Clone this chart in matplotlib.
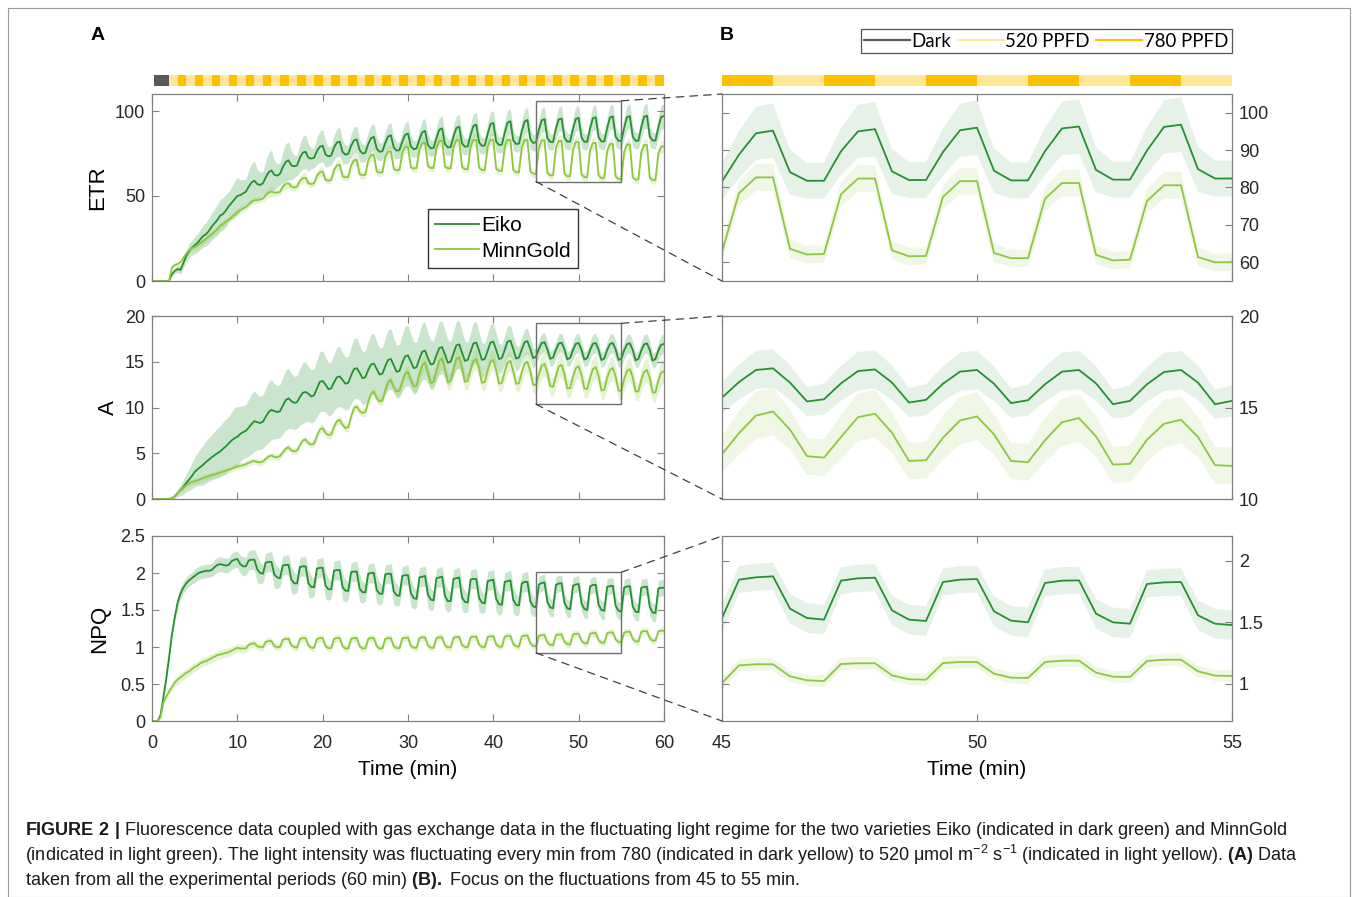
import numpy as np
import matplotlib.pyplot as plt
from matplotlib.patches import Rectangle, ConnectionPatch
from matplotlib.lines import Line2D

plt.rcParams['font.family'] = ['Liberation Sans', 'DejaVu Sans']
plt.rcParams['mathtext.fontset'] = 'custom'
plt.rcParams['mathtext.rm'] = 'Liberation Sans'
plt.rcParams['mathtext.bf'] = 'Liberation Sans:bold'

# one sample every 20 s, 0 -> 60 min
time_min = np.arange(181) / 3

# ---- ETR ----
etr_eiko = [0, 0, 0, 0, 0, 0, 0, 4.0, 6.0,
            7.0, 6.5, 10.5, 14.5, 17.5, 19.5,
            21, 22.5, 24.5, 26.5, 27.5, 29.5,
            32, 34, 36, 38.5, 39.5, 41.5,
            44, 46, 48, 50, 50.5, 51.5,
            52.5, 55.5, 58, 59, 57, 56.5,
            57.5, 61, 64, 65, 62.5, 62,
            63, 67, 70, 71, 68, 67.4,
            68, 72.5, 75.5, 76, 72.5, 72,
            72.5, 76.5, 79, 79.6, 74.5, 73.3,
            73.8, 78.5, 81.5, 82, 76, 74.3,
            74.8, 79.5, 82.7, 83.3, 77, 75,
            75.4, 80.5, 84, 84.8, 77.8, 76,
            76.3, 81.2, 85, 85.7, 78.5, 76.7,
            77, 82, 86, 86.8, 79.2, 77.5,
            78, 83, 87.5, 88.3, 80, 78,
            78.3, 84, 89, 89.8, 80.5, 78.6,
            78.8, 85, 90, 90.8, 81, 79,
            79.2, 85.8, 91.2, 92, 81.5, 79.5,
            79.7, 86.5, 92.3, 93, 82, 80,
            80.2, 87.2, 93.2, 94, 82.8, 80.6,
            80.8, 88, 93.8, 94.8, 83.5, 81.2,
            81.6, 88.8, 94.5, 95.2, 84.1, 81.8,
            81.8, 89.7, 95.0, 95.6, 84.3, 82.0,
            82.0, 89.5, 95.3, 96.0, 84.5, 81.9,
            81.9, 89.7, 95.8, 96.3, 84.7, 82.1,
            82.1, 89.9, 96.2, 96.8, 84.9, 82.4,
            82.4, 90.2, 96.4, 97.0, 85.0, 82.5,
            82.5, 90.3, 96.6, 97.2, 85.1, 82.6,
            82.6, 90.3, 96.5, 97.0]
etr_eiko_sd = [0, 0, 0, 0, 0, 0, 0, 1, 1.5,
               2, 2.5, 3, 3.5, 4, 4.5,
               5, 5.5, 6, 6.5, 7, 7.5,
               8, 8.5, 9, 9.5, 9.5, 9.5,
               8.5, 9.5, 10.5, 11, 9, 8,
               7.5, 9.5, 11, 11.5, 8.5, 7.5,
               7, 9.5, 11.5, 12, 8.5, 7,
               6.5, 9, 10.7, 11, 8.7, 6.5,
               6, 8.3, 9.7, 10, 8, 6,
               5.8, 8, 9.2, 9.5, 7.6, 5.8,
               5.5, 7.3, 8.2, 8.5, 7, 5.5,
               5.3, 7, 7.7, 8, 6.6, 5.3,
               5.2, 6.8, 7.6, 7.8, 6.5, 5.2,
               5, 6.5, 7.3, 7.5, 6.2, 5,
               4.8, 6.3, 7.1, 7.3, 6, 4.8,
               4.8, 6.3, 7.1, 7.3, 6, 4.8,
               4.8, 6.3, 7.1, 7.3, 6, 4.8,
               4.8, 6.3, 7.1, 7.3, 6, 4.8,
               4.8, 6.3, 7.1, 7.3, 6, 4.8,
               4.8, 6.3, 7.1, 7.3, 6, 4.8,
               4.8, 6.3, 7.1, 7.3, 6, 4.8,
               4.8, 6.3, 7.1, 7.3, 6, 4.8,
               4.8, 6.3, 7.1, 7.3, 6, 4.8,
               4.8, 6.3, 7.1, 7.3, 6, 4.8,
               4.8, 6.3, 7.1, 7.3, 6, 4.8,
               4.8, 6.3, 7.1, 7.3, 6, 4.8,
               4.8, 6.3, 7.1, 7.3, 6, 4.8,
               4.8, 6.3, 7.1, 7.3, 6, 4.8,
               4.8, 6.3, 7.1, 7.3, 6, 4.8,
               4.8, 6.3, 7.1, 7.3]
etr_mg = [0, 0, 0, 0, 0, 0, 0, 7.9, 9.5,
          10, 11.2, 13.5, 16, 18, 19.2,
          20, 21, 22.2, 23.5, 24.8, 26.2,
          27.5, 29, 30.5, 32.5, 33.5, 35,
          36, 37.5, 39, 40.5, 41.5, 42.5,
          43.5, 45, 46.5, 47.5, 47.5, 48,
          48.5, 50.5, 52, 52.6, 52, 52,
          52.5, 55.5, 57.2, 57.5, 55.5, 55,
          55.5, 59, 60.5, 60.7, 57.5, 57,
          57.5, 62, 64, 64.4, 59.5, 59,
          59.5, 65.5, 68, 68.4, 61.5, 61,
          61.2, 68, 71, 71.3, 62.8, 62.3,
          62.5, 71, 74, 74.3, 64.4, 63.8,
          64, 73, 76, 76.3, 65.8, 65.2,
          65.4, 75.5, 78.6, 78.9, 66.8, 66.2,
          66.5, 77.5, 81, 81.3, 67.5, 66.5,
          66.5, 78.5, 82.3, 82.5, 67.3, 66.3,
          66.3, 78.8, 82.8, 82.8, 67, 65.8,
          65.8, 79, 83, 83, 66.5, 65.3,
          65.3, 79, 83, 83, 66, 64.8,
          64.8, 78.8, 83, 83, 65.3, 64,
          64, 78.7, 82.9, 82.9, 64.5, 63.2,
          62.8, 78.5, 82.7, 82.7, 63.6, 62.1,
          62.2, 78.2, 82.4, 82.4, 63.2, 61.6,
          61.7, 77.5, 81.7, 81.7, 62.5, 61.1,
          61.1, 77.0, 81.2, 81.2, 62.0, 60.5,
          60.7, 76.4, 80.6, 80.6, 61.4, 60.0,
          60.0, 76.0, 80.3, 80.3, 61.0, 59.6,
          59.7, 75.8, 80.0, 80.0, 60.6, 59.3,
          59.4, 75.0, 79.0, 79.2]
etr_mg_sd = [0, 0, 0, 0, 0, 0, 0, 0.8, 1,
             1.2, 1.3, 1.4, 1.5, 1.6, 1.7,
             1.8, 1.8, 1.9, 1.9, 2, 2,
             2, 2, 2.1, 2.1, 2, 2,
             2, 2, 2.1, 2.1, 2, 2,
             2, 2, 2.1, 2.1, 2, 2,
             2, 2.5, 3, 3, 2.2, 2,
             2, 2.5, 3, 3, 2.2, 2,
             2, 2.5, 3, 3, 2.2, 2,
             2, 2.5, 3, 3, 2.2, 2,
             2, 2.5, 3, 3, 2.2, 2,
             2.3, 3.2, 3.6, 3.6, 2.5, 2.3,
             2.3, 3.2, 3.6, 3.6, 2.5, 2.3,
             2.3, 3.2, 3.6, 3.6, 2.5, 2.3,
             2.3, 3.2, 3.6, 3.6, 2.5, 2.3,
             2.3, 3.2, 3.6, 3.6, 2.5, 2.3,
             2.3, 3.2, 3.6, 3.6, 2.5, 2.3,
             2.3, 3.2, 3.6, 3.6, 2.5, 2.3,
             2.3, 3.2, 3.6, 3.6, 2.5, 2.3,
             2.3, 3.2, 3.6, 3.6, 2.5, 2.3,
             2.3, 3.2, 3.6, 3.6, 2.5, 2.3,
             2.3, 3.2, 3.6, 3.6, 2.5, 2.3,
             2.3, 3.2, 3.6, 3.6, 2.5, 2.3,
             2.3, 3.2, 3.6, 3.6, 2.5, 2.3,
             2.3, 3.2, 3.6, 3.6, 2.5, 2.3,
             2.3, 3.2, 3.6, 3.6, 2.5, 2.3,
             2.3, 3.2, 3.6, 3.6, 2.5, 2.3,
             2.3, 3.2, 3.6, 3.6, 2.5, 2.3,
             2.3, 3.2, 3.6, 3.6, 2.5, 2.3,
             2.3, 3.2, 3.6, 3.6]

# ---- A (assimilation) ----
a_eiko = [0, 0, 0, 0, 0, 0, 0, 0.1, 0.3,
          0.65, 0.95, 1.3, 1.75, 2.1, 2.5,
          2.95, 3.25, 3.5, 3.75, 4.05, 4.3,
          4.55, 4.8, 5.0, 5.2, 5.5, 5.75,
          6.1, 6.4, 6.65, 6.8, 7.1, 7.3,
          7.45, 7.8, 8.2, 8.5, 8.4, 8.3,
          8.45, 9.0, 9.5, 9.75, 9.6, 9.5,
          9.6, 10.2, 10.8, 11.0, 10.7, 10.5,
          10.6, 11.15, 11.6, 11.7, 11.5, 11.2,
          11.35, 12.1, 12.8, 12.9, 12.5, 12.0,
          12.1, 12.75, 13.3, 13.4, 13.0, 12.6,
          12.7, 13.5, 14.2, 14.3, 13.8, 13.2,
          13.3, 14.1, 14.7, 14.8, 14.2, 13.6,
          13.7, 14.5, 15.2, 15.3, 14.6, 13.9,
          14.0, 14.9, 15.6, 15.7, 15.0, 14.3,
          14.4, 15.3, 16.1, 16.2, 15.4, 14.7,
          14.8, 15.7, 16.5, 16.6, 15.8, 14.9,
          15.0, 15.9, 16.8, 16.9, 16.0, 15.1,
          15.2, 16.1, 17.0, 17.1, 16.2, 15.2,
          15.3, 16.2, 17.1, 17.2, 16.3, 15.3,
          15.4, 16.3, 17.2, 17.3, 16.4, 15.35,
          15.45, 16.35, 17.15, 17.25, 16.4, 15.4,
          15.54, 16.39, 17.05, 17.14, 16.36, 15.33,
          15.45, 16.32, 16.99, 17.08, 16.36, 15.27,
          15.42, 16.3, 16.96, 17.05, 16.3, 15.24,
          15.4, 16.27, 16.96, 17.05, 16.32, 15.18,
          15.36, 16.27, 16.94, 17.05, 16.36, 15.18,
          15.36, 16.25, 16.92, 17.02, 16.3, 15.15,
          15.32, 16.22, 16.9, 17.0, 16.28, 15.12,
          15.3, 16.2, 16.85, 16.95]
a_eiko_sd = [0, 0, 0, 0, 0, 0, 0, 0.05, 0.2,
             0.4, 0.6, 0.8, 1.0, 1.2, 1.4,
             1.6, 1.8, 2.0, 2.2, 2.3, 2.4,
             2.5, 2.6, 2.7, 2.8, 2.9, 3.0,
             2.9, 3.1, 3.3, 3.3, 3.0, 2.9,
             2.9, 3.1, 3.3, 3.3, 3.0, 2.9,
             2.9, 3.1, 3.3, 3.3, 3.0, 2.9,
             2.9, 3.1, 3.3, 3.3, 3.0, 2.9,
             2.9, 3.1, 3.3, 3.3, 3.0, 2.9,
             2.9, 3.1, 3.3, 3.3, 3.0, 2.9,
             2.9, 3.1, 3.3, 3.3, 3.0, 2.9,
             2.9, 3.1, 3.3, 3.3, 3.0, 2.9,
             2.9, 3.1, 3.3, 3.3, 3.0, 2.9,
             2.9, 3.1, 3.3, 3.3, 3.0, 2.9,
             2.9, 3.1, 3.3, 3.3, 3.0, 2.9,
             2.7, 2.9, 3.1, 3.1, 2.8, 2.7,
             2.5, 2.7, 2.9, 2.9, 2.6, 2.5,
             2.2, 2.4, 2.6, 2.6, 2.3, 2.2,
             1.9, 2.1, 2.3, 2.3, 2.0, 1.9,
             1.7, 1.9, 2.0, 2.0, 1.8, 1.7,
             1.5, 1.6, 1.7, 1.7, 1.5, 1.4,
             1.2, 1.3, 1.4, 1.4, 1.2, 1.1,
             0.85, 0.95, 1.05, 1.05, 0.95, 0.8,
             0.85, 0.95, 1.05, 1.05, 0.95, 0.8,
             0.85, 0.95, 1.05, 1.05, 0.95, 0.8,
             0.85, 0.95, 1.05, 1.05, 0.95, 0.8,
             0.85, 0.95, 1.05, 1.05, 0.95, 0.8,
             0.85, 0.95, 1.05, 1.05, 0.95, 0.8,
             0.85, 0.95, 1.05, 1.05, 0.95, 0.8,
             0.85, 0.95, 1.05, 1.05]
a_mg = [0, 0, 0, 0, 0, 0, 0, 0.1, 0.3,
        0.65, 0.95, 1.2, 1.5, 1.7, 1.85,
        1.95, 2.05, 2.15, 2.3, 2.4, 2.5,
        2.6, 2.7, 2.8, 2.9, 3.0, 3.1,
        3.2, 3.3, 3.45, 3.55, 3.6, 3.7,
        3.8, 3.95, 4.1, 4.15, 4.05, 4.0,
        4.1, 4.4, 4.65, 4.75, 4.6, 4.55,
        4.7, 5.1, 5.5, 5.65, 5.3, 5.2,
        5.3, 5.9, 6.4, 6.5, 6.1, 5.95,
        6.05, 6.9, 7.6, 7.75, 7.2, 7.0,
        7.05, 7.9, 8.5, 8.65, 8.1, 7.75,
        7.85, 9.0, 9.95, 10.1, 9.6, 9.4,
        9.5, 10.6, 11.5, 11.75, 11.0, 10.65,
        10.75, 11.9, 12.8, 13.0, 12.2, 11.75,
        11.85, 12.9, 13.7, 13.9, 13.0, 12.3,
        12.4, 13.6, 14.6, 14.9, 13.8, 12.7,
        12.8, 14.0, 15.1, 15.4, 14.2, 12.8,
        12.9, 14.2, 15.3, 15.5, 14.3, 12.8,
        12.9, 14.1, 15.1, 15.3, 14.2, 12.7,
        12.8, 14.0, 15.0, 15.2, 14.1, 12.6,
        12.7, 13.9, 14.9, 15.1, 14.0, 12.6,
        12.65, 13.85, 14.8, 15.0, 13.95, 12.5,
        12.45, 13.6, 14.56, 14.78, 13.79, 12.34,
        12.26, 13.39, 14.47, 14.66, 13.62, 12.08,
        12.12, 13.35, 14.29, 14.51, 13.53, 12.08,
        12.01, 13.21, 14.2, 14.42, 13.42, 11.88,
        11.92, 13.24, 14.11, 14.33, 13.39, 11.85,
        11.81, 13.1, 14.0, 14.2, 13.3, 11.75,
        11.75, 13.0, 13.9, 14.1, 13.2, 11.65,
        11.65, 12.9, 13.8, 13.95]
a_mg_sd = [0, 0, 0, 0, 0, 0, 0, 0.05, 0.1,
           0.15, 0.2, 0.25, 0.3, 0.3, 0.3,
           0.35, 0.35, 0.35, 0.35, 0.35, 0.35,
           0.35, 0.35, 0.35, 0.35, 0.35, 0.35,
           0.35, 0.35, 0.35, 0.35, 0.35, 0.35,
           0.35, 0.35, 0.35, 0.35, 0.35, 0.35,
           0.35, 0.35, 0.35, 0.35, 0.35, 0.35,
           0.35, 0.35, 0.35, 0.35, 0.35, 0.35,
           0.35, 0.35, 0.35, 0.35, 0.35, 0.35,
           0.45, 0.45, 0.45, 0.45, 0.45, 0.45,
           0.45, 0.45, 0.45, 0.45, 0.45, 0.45,
           0.45, 0.45, 0.45, 0.45, 0.45, 0.45,
           0.45, 0.45, 0.45, 0.45, 0.45, 0.45,
           0.45, 0.45, 0.45, 0.45, 0.45, 0.45,
           0.55, 0.6, 0.65, 0.65, 0.6, 0.55,
           0.75, 0.8, 0.9, 0.9, 0.8, 0.75,
           0.9, 1.05, 1.15, 1.15, 1.0, 0.9,
           0.9, 1.05, 1.15, 1.15, 1.0, 0.9,
           0.9, 1.05, 1.15, 1.15, 1.0, 0.9,
           0.9, 1.05, 1.15, 1.15, 1.0, 0.9,
           0.9, 1.05, 1.15, 1.15, 1.0, 0.9,
           0.9, 1.05, 1.15, 1.15, 1.0, 0.9,
           1.0, 1.2, 1.3, 1.3, 1.1, 1.0,
           1.0, 1.2, 1.3, 1.3, 1.1, 1.0,
           1.0, 1.2, 1.3, 1.3, 1.1, 1.0,
           1.0, 1.2, 1.3, 1.3, 1.1, 1.0,
           1.0, 1.2, 1.3, 1.3, 1.1, 1.0,
           1.0, 1.2, 1.3, 1.3, 1.1, 1.0,
           1.0, 1.2, 1.3, 1.3, 1.1, 1.0,
           1.0, 1.2, 1.3, 1.3]

# ---- NPQ ----
npq_eiko = [0, 0, 0, 0.08, 0.32, 0.57, 0.86, 1.17, 1.4,
            1.6, 1.72, 1.8, 1.86, 1.9, 1.93,
            1.96, 1.99, 2.01, 2.02, 2.03, 2.03,
            2.04, 2.08, 2.11, 2.12, 2.11, 2.1,
            2.11, 2.16, 2.18, 2.19, 2.12, 2.09,
            2.09, 2.17, 2.18, 2.18, 2.05, 2.0,
            1.99, 2.14, 2.15, 2.15, 1.98, 1.94,
            1.93, 2.1, 2.11, 2.11, 1.91, 1.86,
            1.86, 2.08, 2.09, 2.09, 1.86, 1.81,
            1.81, 2.06, 2.07, 2.07, 1.83, 1.78,
            1.78, 2.03, 2.04, 2.04, 1.81, 1.76,
            1.76, 2.01, 2.02, 2.02, 1.79, 1.74,
            1.74, 1.99, 2.0, 2.0, 1.77, 1.72,
            1.72, 1.98, 1.99, 1.99, 1.75, 1.7,
            1.69, 1.96, 1.97, 1.97, 1.73, 1.66,
            1.65, 1.94, 1.95, 1.96, 1.71, 1.64,
            1.63, 1.93, 1.94, 1.95, 1.69, 1.62,
            1.62, 1.92, 1.93, 1.94, 1.67, 1.61,
            1.60, 1.91, 1.92, 1.92, 1.66, 1.60,
            1.59, 1.89, 1.90, 1.91, 1.65, 1.58,
            1.57, 1.88, 1.89, 1.90, 1.64, 1.57,
            1.56, 1.86, 1.88, 1.88, 1.62, 1.55,
            1.535, 1.846, 1.865, 1.873, 1.611, 1.535,
            1.522, 1.838, 1.857, 1.862, 1.597, 1.522,
            1.511, 1.827, 1.846, 1.851, 1.589, 1.514,
            1.500, 1.819, 1.838, 1.840, 1.570, 1.500,
            1.489, 1.811, 1.824, 1.827, 1.557, 1.489,
            1.478, 1.805, 1.818, 1.822, 1.548, 1.478,
            1.470, 1.800, 1.812, 1.815, 1.540, 1.465,
            1.460, 1.790, 1.800, 1.800]
npq_eiko_sd = [0, 0, 0, 0.01, 0.03, 0.04, 0.05, 0.06, 0.07,
               0.08, 0.08, 0.08, 0.08, 0.08, 0.08,
               0.09, 0.09, 0.09, 0.09, 0.09, 0.09,
               0.09, 0.1, 0.1, 0.1, 0.1, 0.1,
               0.1, 0.11, 0.11, 0.11, 0.12, 0.13,
               0.12, 0.13, 0.13, 0.14, 0.18, 0.15,
               0.12, 0.13, 0.13, 0.14, 0.18, 0.15,
               0.12, 0.13, 0.13, 0.14, 0.18, 0.15,
               0.12, 0.13, 0.13, 0.14, 0.18, 0.15,
               0.12, 0.13, 0.13, 0.14, 0.18, 0.15,
               0.12, 0.13, 0.13, 0.14, 0.18, 0.15,
               0.12, 0.13, 0.13, 0.14, 0.18, 0.15,
               0.12, 0.13, 0.13, 0.14, 0.18, 0.15,
               0.12, 0.13, 0.13, 0.14, 0.18, 0.15,
               0.12, 0.13, 0.13, 0.14, 0.18, 0.15,
               0.12, 0.13, 0.13, 0.14, 0.18, 0.15,
               0.12, 0.13, 0.13, 0.14, 0.18, 0.15,
               0.12, 0.13, 0.13, 0.14, 0.18, 0.15,
               0.12, 0.13, 0.13, 0.14, 0.18, 0.15,
               0.12, 0.13, 0.13, 0.14, 0.18, 0.15,
               0.12, 0.13, 0.13, 0.14, 0.18, 0.15,
               0.12, 0.13, 0.13, 0.14, 0.16, 0.14,
               0.12, 0.11, 0.11, 0.11, 0.12, 0.12,
               0.12, 0.11, 0.11, 0.11, 0.12, 0.12,
               0.12, 0.11, 0.11, 0.11, 0.12, 0.12,
               0.12, 0.11, 0.11, 0.11, 0.12, 0.12,
               0.12, 0.11, 0.11, 0.11, 0.12, 0.12,
               0.12, 0.11, 0.11, 0.11, 0.12, 0.12,
               0.12, 0.11, 0.11, 0.11, 0.12, 0.12,
               0.12, 0.11, 0.11, 0.11]
npq_mg = [0, 0, 0, 0.05, 0.25, 0.33, 0.40, 0.46, 0.52,
          0.56, 0.59, 0.62, 0.65, 0.67, 0.70,
          0.73, 0.75, 0.78, 0.80, 0.81, 0.83,
          0.85, 0.87, 0.89, 0.90, 0.91, 0.92,
          0.93, 0.95, 0.97, 0.99, 0.98, 0.98,
          0.98, 1.03, 1.045, 1.05, 1.01, 1.0,
          1.0, 1.07, 1.08, 1.08, 1.01, 1.0,
          1.0, 1.1, 1.11, 1.11, 1.02, 1.0,
          0.99, 1.11, 1.12, 1.12, 1.02, 0.99,
          0.99, 1.11, 1.12, 1.12, 1.01, 0.985,
          0.985, 1.11, 1.12, 1.12, 1.01, 0.98,
          0.98, 1.11, 1.12, 1.12, 1.01, 0.98,
          0.98, 1.11, 1.12, 1.12, 1.01, 0.98,
          0.98, 1.11, 1.12, 1.12, 1.01, 0.985,
          0.985, 1.115, 1.125, 1.125, 1.015, 0.99,
          0.99, 1.12, 1.13, 1.13, 1.02, 0.99,
          0.99, 1.12, 1.13, 1.13, 1.02, 0.995,
          0.995, 1.125, 1.135, 1.135, 1.025, 1.0,
          1.0, 1.13, 1.14, 1.14, 1.03, 1.0,
          1.0, 1.135, 1.145, 1.145, 1.035, 1.005,
          1.005, 1.14, 1.15, 1.15, 1.04, 1.01,
          1.005, 1.145, 1.155, 1.155, 1.05, 1.015,
          1.008, 1.151, 1.16, 1.16, 1.062, 1.03,
          1.024, 1.162, 1.168, 1.168, 1.07, 1.038,
          1.035, 1.17, 1.178, 1.178, 1.084, 1.051,
          1.049, 1.178, 1.189, 1.189, 1.092, 1.059,
          1.057, 1.186, 1.197, 1.197, 1.103, 1.068,
          1.065, 1.195, 1.205, 1.205, 1.11, 1.075,
          1.075, 1.205, 1.215, 1.215, 1.12, 1.085,
          1.09, 1.21, 1.22, 1.22]
npq_mg_sd = [0, 0, 0, 0.01, 0.03, 0.04, 0.05, 0.05, 0.06,
             0.06, 0.06, 0.06, 0.06, 0.06, 0.06,
             0.06, 0.06, 0.06, 0.06, 0.06, 0.06,
             0.06, 0.06, 0.06, 0.06, 0.06, 0.06,
             0.06, 0.06, 0.06, 0.06, 0.06, 0.06,
             0.05, 0.05, 0.05, 0.05, 0.045, 0.045,
             0.05, 0.05, 0.05, 0.05, 0.045, 0.045,
             0.05, 0.05, 0.05, 0.05, 0.045, 0.045,
             0.05, 0.05, 0.05, 0.05, 0.045, 0.045,
             0.05, 0.05, 0.05, 0.05, 0.045, 0.045,
             0.05, 0.05, 0.05, 0.05, 0.045, 0.045,
             0.05, 0.05, 0.05, 0.05, 0.045, 0.045,
             0.05, 0.05, 0.05, 0.05, 0.045, 0.045,
             0.05, 0.05, 0.05, 0.05, 0.045, 0.045,
             0.05, 0.05, 0.05, 0.05, 0.045, 0.045,
             0.05, 0.05, 0.05, 0.05, 0.045, 0.045,
             0.05, 0.05, 0.05, 0.05, 0.045, 0.045,
             0.05, 0.05, 0.05, 0.05, 0.045, 0.045,
             0.05, 0.05, 0.05, 0.05, 0.045, 0.045,
             0.05, 0.05, 0.05, 0.05, 0.045, 0.045,
             0.05, 0.05, 0.05, 0.05, 0.045, 0.045,
             0.05, 0.05, 0.05, 0.05, 0.045, 0.045,
             0.05, 0.05, 0.05, 0.05, 0.045, 0.045,
             0.05, 0.05, 0.05, 0.05, 0.045, 0.045,
             0.05, 0.05, 0.05, 0.05, 0.045, 0.045,
             0.05, 0.05, 0.05, 0.05, 0.045, 0.045,
             0.05, 0.05, 0.05, 0.05, 0.045, 0.045,
             0.05, 0.05, 0.05, 0.05, 0.045, 0.045,
             0.05, 0.05, 0.05, 0.05, 0.045, 0.045,
             0.05, 0.05, 0.05, 0.05]

# light regime: dark, then every minute 520 / 780 PPFD
light_a_start = [0.2] + list(range(2, 60))
light_a_state = ['Dark'] + ['520', '780'] * 29
light_b_start = list(range(45, 55))
light_b_state = ['780', '520'] * 5
light_colors = {'Dark': '#595959', '520': '#ffe699', '780': '#ffc000'}

eiko_c = '#24912f'
mg_c = '#8dc73f'
W, H = 1358, 897

fig = plt.figure(figsize=(W / 100, H / 100), dpi=100)


def add_ax(x0, y0, x1, y1):
    return fig.add_axes([x0 / W, 1 - y1 / H, (x1 - x0) / W, (y1 - y0) / H])


def style(ax, right=False):
    for s in ax.spines.values():
        s.set_color('#808080')
        s.set_linewidth(0.9)
    ax.tick_params(direction='in', length=5, width=0.8, color='#808080',
                   top=True, right=True, labelsize=13, labelcolor='#262626', pad=5)
    if right:
        ax.tick_params(labelleft=False, labelright=True)


panels = [
    ('ETR', etr_eiko, etr_eiko_sd, etr_mg, etr_mg_sd, (0, 110), [0, 50, 100],
     (55, 105), [60, 70, 80, 90, 100], (58.5, 106)),
    ('A', a_eiko, a_eiko_sd, a_mg, a_mg_sd, (0, 20), [0, 5, 10, 15, 20],
     (10, 20), [10, 15, 20], (10.35, 19.2)),
    ('NPQ', npq_eiko, npq_eiko_sd, npq_mg, npq_mg_sd, (0, 2.5), [0, 0.5, 1, 1.5, 2, 2.5],
     (0.7, 2.2), [1, 1.5, 2], (0.92, 2.01)),
]
rows_px = [(94, 281), (316, 499), (536, 721)]
ylab_x = [98, 108, 100]

for k, (name, e, es, m, ms, ylA, ytA, ylB, ytB, box) in enumerate(panels):
    y0, y1 = rows_px[k]
    e, es, m, ms = map(np.array, (e, es, m, ms))
    axL = add_ax(152, y0, 664, y1)
    axR = add_ax(722, y0, 1232, y1)
    for ax, alpha_e, alpha_m in ((axL, 0.24, 0.22), (axR, 0.11, 0.13)):
        ax.fill_between(time_min, e - es, e + es, color=eiko_c, alpha=alpha_e, lw=0)
        ax.fill_between(time_min, m - ms, m + ms, color=mg_c, alpha=alpha_m, lw=0)
        ax.plot(time_min, e, color=eiko_c, lw=1.3, label='Eiko')
        ax.plot(time_min, m, color=mg_c, lw=1.3, label='MinnGold')
    axL.set_xlim(0, 60)
    axL.set_ylim(*ylA)
    axL.set_xticks(range(0, 61, 10))
    axL.set_yticks(ytA)
    axL.set_yticklabels([f'{v:g}' for v in ytA])
    axR.set_xlim(45, 55)
    axR.set_ylim(*ylB)
    axR.set_xticks([45, 50, 55])
    axR.set_yticks(ytB)
    axR.set_yticklabels([f'{v:g}' for v in ytB])
    style(axL)
    style(axR, right=True)
    if k < 2:
        axL.tick_params(labelbottom=False)
        axR.tick_params(labelbottom=False)
    else:
        axL.tick_params(axis='x', pad=10)
        axR.tick_params(axis='x', pad=10)
        axL.set_xlabel('Time (min)', fontsize=15, labelpad=6)
        axR.set_xlabel('Time (min)', fontsize=15, labelpad=6)
    fig.text(ylab_x[k] / W, 1 - (y0 + y1) / 2 / H, name, rotation=90,
             ha='center', va='center', fontsize=16)

    # zoom box and dashed connectors
    axL.add_patch(Rectangle((45, box[0]), 10, box[1] - box[0], fill=False,
                            ec='#6e6e6e', lw=1.0, zorder=5))
    for xyA, xyB in (((55, box[1]), (0, 1)), ((45, box[0]), (0, 0))):
        con = ConnectionPatch(xyA=xyA, coordsA='data', axesA=axL,
                              xyB=xyB, coordsB='axes fraction', axesB=axR,
                              color='#404040', lw=0.9, linestyle=(0, (6, 5)))
        fig.add_artist(con)

    if k == 0:
        axL.legend(loc='upper left', bbox_to_anchor=(428 / W, 1 - 209 / H),
                   bbox_transform=fig.transFigure, fontsize=15, fancybox=False,
                   edgecolor='#333333', framealpha=1, handlelength=2.1,
                   handletextpad=0.12, borderpad=0.35, labelspacing=0.3,
                   borderaxespad=0)

# light bars
for (x0, x1, starts, states, xl) in ((152, 664, light_a_start, light_a_state, (0, 60)),
                                     (722, 1232, light_b_start, light_b_state, (45, 55))):
    axb = add_ax(x0, 75, x1, 86)
    ends = starts[1:] + [xl[1]]
    for s, en, st in zip(starts, ends, states):
        axb.barh(0, en - s, left=s, height=1, color=light_colors[st], lw=0)
    axb.set_xlim(*xl)
    axb.set_ylim(-0.5, 0.5)
    axb.axis('off')

# light legend
handles = [Line2D([], [], color=light_colors[s], lw=1.6) for s in ('Dark', '520', '780')]
leg = fig.legend(handles, ['Dark', '520 PPFD', '780 PPFD'], ncol=3, loc='upper right',
                 bbox_to_anchor=(1232 / W, 1 - 29 / H), frameon=True, fancybox=False,
                 edgecolor='#555555', framealpha=1, handlelength=2.45, handletextpad=0.1,
                 columnspacing=0.35, borderpad=0.2, borderaxespad=0,
                 prop={'family': 'Lato', 'size': 13.4})
leg.get_frame().set_linewidth(0.9)

fig.text(98 / W, 1 - 36 / H, 'A', fontsize=14, fontweight='bold', ha='center', va='center')
fig.text(727 / W, 1 - 36 / H, 'B', fontsize=14, fontweight='bold', ha='center', va='center')

# caption
cap = [r'$\mathbf{FIGURE\ 2\ |}$ Fluorescence data coupled with gas exchange data in the fluctuating '
       r'light regime for the two varieties Eiko (indicated in dark green) and MinnGold',
       r'(indicated in light green). The light intensity was fluctuating every min from 780 '
       r'(indicated in dark yellow) to 520 μmol m$^{-2}$ s$^{-1}$ (indicated in light yellow). '
       r'$\mathbf{(A)}$ Data',
       r'taken from all the experimental periods (60 min) $\mathbf{(B).}$ Focus on the '
       r'fluctuations from 45 to 55 min.']
for i, line in enumerate(cap):
    fig.text(25 / W, 1 - (830 + 25 * i) / H, line, fontsize=13, ha='left', va='center',
             color='#1a1a1a')

fig.add_artist(Rectangle((8 / W, 0), 1342 / W, 1 - 8 / H, transform=fig.transFigure,
                         fill=False, ec='#9a9a9a', lw=0.8))

fig.savefig('out.png', dpi=100)
